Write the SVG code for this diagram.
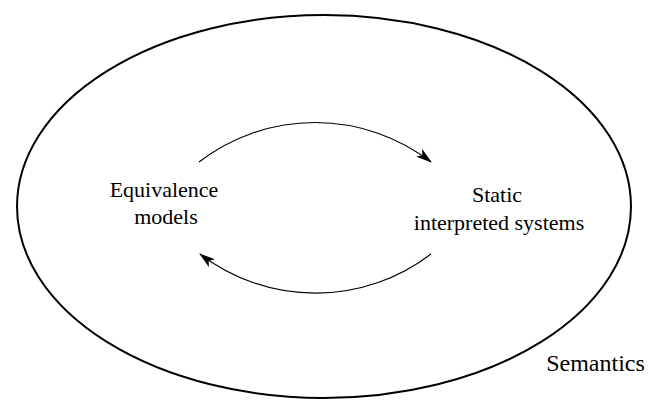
<svg xmlns="http://www.w3.org/2000/svg" width="650" height="402" viewBox="0 0 650 402">
<style>
.t{font-family:"Liberation Serif","Times New Roman",serif;font-size:22px;fill:#000;text-anchor:middle}
.c{fill:none;stroke:#000;stroke-width:1.2}
</style>
<defs>
<marker id="ah" markerWidth="16" markerHeight="10" refX="15" refY="5" orient="auto" markerUnits="userSpaceOnUse">
<path d="M0,0 L16,5 L0,10 L4,5 Z" fill="#000"/>
</marker>
</defs>
<rect width="650" height="402" fill="#fff"/>
<g id="semantics">
<ellipse cx="324" cy="206.5" rx="307" ry="191.5" fill="none" stroke="#000" stroke-width="2"/>
<text class="t" x="595.5" y="371" style="font-size:24px">Semantics</text>
</g>
<g id="equivalence">
<text class="t" x="164" y="197">Equivalence</text>
<text class="t" x="166" y="224">models</text>
</g>
<g id="static">
<text class="t" x="497" y="202">Static</text>
<text class="t" x="499" y="230">interpreted systems</text>
</g>
<g id="connectors">
<path class="c" d="M199,162 A190,190 0 0 1 431,162" marker-end="url(#ah)"/>
<path class="c" d="M431,254 A190,190 0 0 1 200,254" marker-end="url(#ah)"/>
</g>
</svg>
